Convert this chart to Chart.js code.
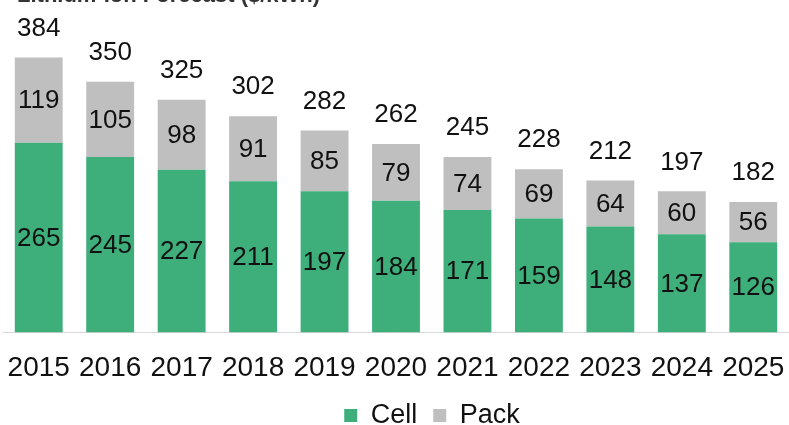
<!DOCTYPE html>
<html>
<head>
<meta charset="utf-8">
<script src="https://cdn.jsdelivr.net/npm/chart.js@4/dist/chart.umd.min.js"></script>
<style>
  html,body{margin:0;padding:0;background:#fff;overflow:hidden;}
  #wrap{position:relative;width:789px;height:425px;overflow:hidden;}
</style>
</head>
<body>
<div id="wrap"><canvas id="c" width="789" height="440"></canvas></div>
<script>
const titleText = "Lithium-Ion Forecast ($/kWh)";
const years = ["2015","2016","2017","2018","2019","2020","2021","2022","2023","2024","2025"];
const cell = [265,245,227,211,197,184,171,159,148,137,126];
const pack = [119,105,98,91,85,79,74,69,64,60,56];
const totals = [384,350,325,302,282,262,245,228,212,197,182];

const FONT = "'Liberation Sans', Arial, Helvetica, sans-serif";

const labelPlugin = {
  id: 'labels',
  afterDatasetsDraw(chart) {
    const ctx = chart.ctx;
    ctx.save();
    ctx.fillStyle = '#111';
    ctx.textAlign = 'center';
    ctx.textBaseline = 'middle';
    ctx.font = '26px ' + FONT;
    chart.data.datasets.forEach((ds, di) => {
      const meta = chart.getDatasetMeta(di);
      meta.data.forEach((bar, i) => {
        const mid = (bar.y + bar.base) / 2;
        ctx.fillText(String(ds.data[i]), bar.x, mid + 1);
      });
    });
    const top = chart.getDatasetMeta(1);
    top.data.forEach((bar, i) => {
      ctx.fillText(String(totals[i]), bar.x, bar.y - 29);
    });
    // cropped title at the very top
    ctx.font = 'bold 22px ' + FONT;
    ctx.textAlign = 'left';
    ctx.textBaseline = 'alphabetic';
    ctx.fillStyle = '#333';
    ctx.fillText(titleText, 17, 2);
    ctx.restore();
  }
};

const legendShift = {
  id: 'legendShift',
  afterLayout(chart) {
    const l = chart.legend;
    if (!l) return;
    l.left += 36; l.right += 36;
    l.top -= 1; l.bottom -= 1;
  }
};

new Chart(document.getElementById('c'), {
  type: 'bar',
  data: {
    labels: years,
    datasets: [
      { label: 'Cell', data: cell, backgroundColor: '#3EAE7B', borderWidth: 0,
        barPercentage: 0.67, categoryPercentage: 1 },
      { label: 'Pack', data: pack, backgroundColor: '#C0BFC0', borderWidth: 0,
        barPercentage: 0.67, categoryPercentage: 1 }
    ]
  },
  options: {
    responsive: false,
    animation: false,
    layout: { padding: { top: 46, left: 3, right: 0, bottom: 0 } },
    scales: {
      x: {
        stacked: true,
        grid: { display: false, drawTicks: false },
        border: { display: true, color: '#D9D9D9', width: 1 },
        ticks: { color: '#111', font: { family: FONT, size: 28 }, padding: 19 },
        afterFit(scale) {
          scale.paddingLeft = 0;
          scale.paddingRight = 0;
          scale.height = scale.height - 17;
        }
      },
      y: {
        stacked: true, display: false, min: 0, max: 400
      }
    },
    plugins: {
      legend: {
        position: 'bottom',
        labels: {
          color: '#111', font: { family: FONT, size: 27 },
          boxWidth: 13, boxHeight: 13, padding: 16
        }
      },
      tooltip: { enabled: false }
    }
  },
  plugins: [labelPlugin, legendShift]
});
</script>
</body>
</html>
